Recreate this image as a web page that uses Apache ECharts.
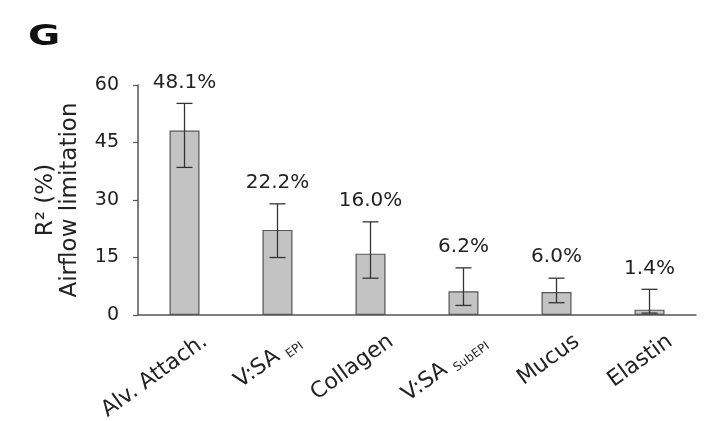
<!DOCTYPE html>
<html><head><meta charset="utf-8">
<script src="https://cdn.jsdelivr.net/npm/echarts@6/dist/echarts.min.js"></script>
<style>html,body{margin:0;padding:0;background:#fff}#c{width:706px;height:421px}</style>
</head><body><div id="c"></div>
<script>
const categories = ['Alv. Attach.', 'V:SA {sub|EPI}', 'Collagen', 'V:SA {sub|SubEPI}', 'Mucus', 'Elastin'];
const values = [48.1, 22.2, 16.0, 6.2, 6.0, 1.4];
const errLow = [38.5, 15.0, 9.6, 2.5, 3.2, 0.5];
const errHigh = [55.2, 29.0, 24.3, 12.3, 9.6, 6.7];
const valueLabels = ['48.1%', '22.2%', '16.0%', '6.2%', '6.0%', '1.4%'];
const yTicks = [0, 15, 30, 45, 60];

const FONT = '"DejaVu Sans", sans-serif';
const chart = echarts.init(document.getElementById('c'), null, {renderer: 'canvas'});
chart.setOption({
  backgroundColor: '#fff',
  animation: false,
  graphic: [{type: 'text', x: 28, y: 24, scaleX: 1.4, style: {text: 'G', font: 'bold 28px ' + FONT, fill: '#111', verticalAlign: 'top'}}],
  grid: {left: 138, right: 10, top: 85, bottom: 106, containLabel: false, outerBoundsMode: 'none'},
  xAxis: {
    type: 'category', data: categories,
    axisLine: {lineStyle: {color: '#555', width: 1.5}},
    axisTick: {show: false},
    axisLabel: {
      interval: 0, showMinLabel: true, showMaxLabel: true, hideOverlap: false,
      rotate: 36, margin: -4, align: 'right', verticalAlign: 'top', padding: [22, 0, 0, 0],
      color: '#222', fontFamily: FONT, fontSize: 22, lineHeight: 26,
      rich: {sub: {fontSize: 12, fontFamily: FONT, color: '#222', verticalAlign: 'bottom', lineHeight: 12}}
    }
  },
  yAxis: {
    type: 'value', min: yTicks[0], max: yTicks[yTicks.length - 1], interval: 15,
    name: 'R² (%)\nAirflow limitation', nameLocation: 'middle', nameGap: 56,
    nameTextStyle: {color: '#222', fontFamily: FONT, fontSize: 23, lineHeight: 24},
    axisLine: {show: true, lineStyle: {color: '#555', width: 1.5}},
    axisTick: {show: true, length: 5, lineStyle: {color: '#555', width: 1.2}},
    splitLine: {show: false},
    axisLabel: {margin: 19, color: '#222', fontFamily: FONT, fontSize: 19}
  },
  series: [
    {type: 'bar', data: values, barWidth: 30,
     itemStyle: {color: '#c3c3c3', borderColor: '#555', borderWidth: 1.2}},
    {type: 'custom', data: values.map((v, i) => [i, errLow[i], errHigh[i]]),
     renderItem: function (params, api) {
       const x = api.coord([api.value(0), 0])[0];
       const lo = api.coord([api.value(0), api.value(1)])[1];
       const hi = api.coord([api.value(0), api.value(2)])[1];
       const w = 8;
       const st = {stroke: '#333', lineWidth: 1.3};
       return {type: 'group', children: [
         {type: 'line', shape: {x1: x, y1: lo, x2: x, y2: hi}, style: st},
         {type: 'line', shape: {x1: x - w, y1: lo, x2: x + w, y2: lo}, style: st},
         {type: 'line', shape: {x1: x - w, y1: hi, x2: x + w, y2: hi}, style: st},
         {type: 'text', x: x, y: hi - 21, style: {text: valueLabels[params.dataIndex], font: '20px ' + FONT, fill: '#222', align: 'center', verticalAlign: 'middle'}}
       ]};
     }, z: 5}
  ]
});
</script></body></html>
